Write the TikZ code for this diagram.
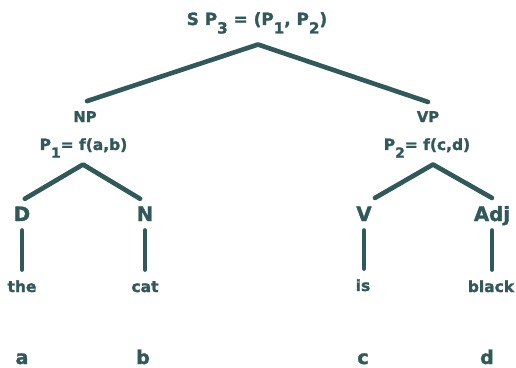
\documentclass[tikz,border=0pt]{standalone}
\usepackage{fontspec}
\setmainfont{DejaVu Sans}[BoldFeatures={FakeBold=1.6}]
\usetikzlibrary{calc}
\definecolor{treeink}{HTML}{31595A}
\newcommand{\lowsub}[1]{\raisebox{-0.5em}{\scalebox{0.9}{#1}}}

\begin{document}
\begin{tikzpicture}[
  x=0.025cm, y=-0.025cm,
  color=treeink,
  lbl/.style={inner sep=1pt, anchor=base},
  semlbl/.style={lbl, font=\fontsize{12}{14}\selectfont\bfseries},
  phrlbl/.style={lbl, font=\fontsize{10.5}{12}\selectfont\bfseries},
  fnlbl/.style={lbl, font=\fontsize{11}{13}\selectfont\bfseries},
  catlbl/.style={lbl, font=\fontsize{14}{16}\selectfont\bfseries,
                 text height=10.2pt, text depth=3.2pt},
  wordlbl/.style={lbl, font=\fontsize{11}{13}\selectfont\bfseries,
                  text height=8.4pt, text depth=0pt},
  varlbl/.style={lbl, font=\fontsize{13.5}{16}\selectfont\bfseries},
  branch/.style={line width=3.3pt, line cap=round, line join=round},
  stem/.style={line width=3pt, line cap=round, shorten <=2.2pt, shorten >=6.2pt},
]
\useasboundingbox (0,0) rectangle (516,368);

% ---- root ----
\node[semlbl] (s) at (257,25) {S P\lowsub{3} = (P\lowsub{1}, P\lowsub{2})};
\coordinate (sfork) at (258,44.5);

% ---- phrases ----
\node[phrlbl] (np) at (85,122) {NP};
\node[fnlbl] (pone) at (83.5,150) {P\lowsub{1}= f(a,b)};
\coordinate (npfork) at (83,164.5);

\node[phrlbl] (vp) at (428,122) {VP};
\node[fnlbl] (ptwo) at (427,150) {P\lowsub{2}= f(c,d)};
\coordinate (vpfork) at (433,164.5);

% ---- categories ----
\node[catlbl] (d) at (22,221) {D};
\node[catlbl] (n) at (145,221) {N};
\node[catlbl] (v) at (364,221) {V};
\node[catlbl] (adj) at (492,221) {Adj};

% ---- words ----
\node[wordlbl] (the) at (22,292) {the};
\node[wordlbl] (cat) at (145,292) {cat};
\node[wordlbl] (is) at (363,291) {is};
\node[wordlbl] (black) at (491,292) {black};

% ---- variables ----
\node[varlbl] (va) at (22,364) {a};
\node[varlbl] (vb) at (143,364) {b};
\node[varlbl] (vc) at (363,364) {c};
\node[varlbl] (vd) at (487,364) {d};

% ---- branches ----
\draw[branch] ([xshift=1.4pt,yshift=6pt]np.north) -- (sfork) -- ([yshift=5.4pt]vp.north);
\draw[branch] ([xshift=2pt,yshift=4.4pt]d.north) -- (npfork) -- ([xshift=-3.5pt,yshift=4.4pt]n.north);
\draw[branch] ([xshift=7.8pt,yshift=5pt]v.north) -- (vpfork) -- ([yshift=5pt]adj.north);

% ---- stems ----
\foreach \c/\w in {d/the, n/cat, v/is, adj/black}{
  \draw[stem] (\c.south) -- (\c.south |- \w.north);
}

\end{tikzpicture}
\end{document}
